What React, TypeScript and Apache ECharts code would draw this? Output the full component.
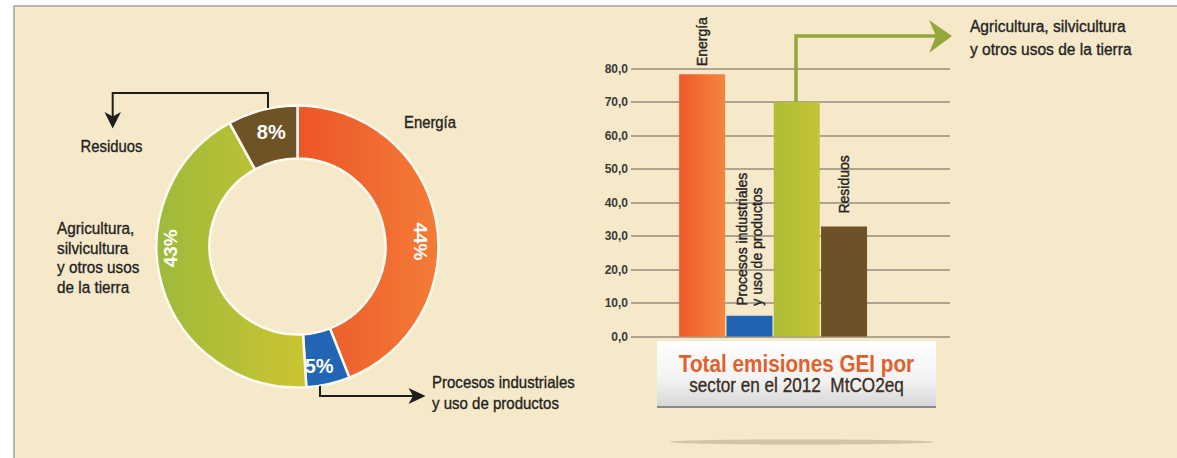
import React, { useEffect, useRef } from 'react';
import * as echarts from 'echarts';

// ---------- data ----------
const PIE_NAMES = [
  'Energía',
  'Procesos industriales\ny uso de productos',
  'Agricultura,\nsilvicultura\ny otros usos\nde la tierra',
  'Residuos',
];
const PIE_PERCENT = [44, 5, 43, 8];

const BAR_CATEGORIES = ['Energía', 'Procesos industriales y uso de productos', 'Agricultura, silvicultura y otros usos de la tierra', 'Residuos'];
const BAR_LABELS = ['Energía', 'Procesos industriales\ny uso de productos', '', 'Residuos'];
const BAR_VALUES = [78.3, 6.2, 70.0, 32.8];
const AGRI_NOTE = 'Agricultura, silvicultura\ny otros usos de la tierra';

const Y_MIN = 0;
const Y_MAX = 80;
const Y_STEP = 10;

const TITLE_LINES = ['Total emisiones GEI por', 'sector en el 2012  MtCO2eq'];

// ---------- styles ----------
const SANS = "'Liberation Sans', Arial, sans-serif";
const TXT = '#222222';
const PAPER = '#f5e9c9';
const CONDENSE = 0.9;

const lin = (a: string, b: string) => ({
  type: 'linear', x: 0, y: 0, x2: 1, y2: 0,
  colorStops: [{ offset: 0, color: a }, { offset: 1, color: b }],
});

const PIE_COLORS = [lin('#ec5529', '#f47c37'), '#2265b5', lin('#9dba3d', '#cbc52f'), '#6f5226'];
const PIE_LABEL_ROT = [-90, 0, 90, 0];
const PIE_LABEL_SIZE = [19, 20, 19, 20];
// label shifts are in the label's own (rotated) frame
const PIE_LABEL_SHIFT = [[17, -8], [-4, 5], [31, -14], [3, -1]];

const BAR_COLORS = [lin('#ee5a2a', '#f5853e'), '#2163b3', lin('#aebd37', '#c4c433'), '#6e5127'];
const BAR_LABEL_DIST = [8, 10, 0, 13];

const txt = (text: string, x: number, y: number, size: number, extra: any = {}, scaleX = CONDENSE) => ({
  type: 'text',
  z: 10,
  x,
  y,
  scaleX,
  style: {
    text, x: 0, y: 0,
    fontSize: size, fontFamily: SANS, fill: TXT,
    stroke: extra.fill || TXT, lineWidth: 0.35,
    align: 'left', textAlign: 'left',
    verticalAlign: 'top', textVerticalAlign: 'top',
    ...extra,
  },
});

function buildOption() {
  const pieData = PIE_PERCENT.map((v, i) => ({
    value: v,
    name: PIE_NAMES[i],
    itemStyle: { color: PIE_COLORS[i] },
    label: { rotate: PIE_LABEL_ROT[i], fontSize: PIE_LABEL_SIZE[i] },
  }));

  const barData = BAR_VALUES.map((v, i) => ({
    value: v,
    itemStyle: { color: BAR_COLORS[i] },
    label: BAR_LABELS[i]
      ? {
          show: true,
          position: 'top',
          rotate: 90,
          align: 'left',
          verticalAlign: 'middle',
          distance: BAR_LABEL_DIST[i],
          formatter: BAR_LABELS[i],
          fontSize: 14,
          lineHeight: 15,
          fontFamily: SANS,
          color: TXT,
          textBorderColor: TXT,
          textBorderWidth: 0.4,
        }
      : { show: false },
  }));

  return {
    animation: false,
    backgroundColor: '#ffffff',
    grid: [
      { left: 631, right: 227, top: 68.5, bottom: 121.5 },
      { left: 678.5, width: 189.2, top: 68.5, bottom: 121.5 },
    ],
    xAxis: [
      { gridIndex: 0, type: 'category', data: [''], show: false },
      { gridIndex: 1, type: 'category', data: BAR_CATEGORIES, show: false },
    ],
    yAxis: [
      {
        gridIndex: 0,
        type: 'value',
        min: Y_MIN,
        max: Y_MAX,
        interval: Y_STEP,
        axisLine: { show: false },
        axisTick: { show: false },
        axisLabel: {
          margin: 3,
          fontSize: 12,
          fontWeight: 'bold',
          fontFamily: SANS,
          color: '#3a3a3a',
          formatter: (v: number) => v.toFixed(1).replace('.', ','),
        },
        splitLine: { show: true, lineStyle: { color: '#968c7c', width: 1.5 } },
      },
      { gridIndex: 1, type: 'value', min: Y_MIN, max: Y_MAX, interval: Y_STEP, show: false, splitLine: { show: false } },
    ],
    series: [
      {
        type: 'pie',
        silent: true,
        center: [297.5, 246.5],
        radius: [88, 141],
        startAngle: 90,
        clockwise: true,
        avoidLabelOverlap: false,
        itemStyle: { borderColor: '#fdfaf0', borderWidth: 2.5 },
        label: {
          show: true,
          position: 'inside',
          color: '#ffffff',
          fontWeight: 'bold',
          fontFamily: SANS,
          formatter: (p: any) => p.value + '%',
        },
        labelLine: { show: false },
        labelLayout: (p: any) => ({ dx: PIE_LABEL_SHIFT[p.dataIndex][0], dy: PIE_LABEL_SHIFT[p.dataIndex][1] }),
        data: pieData,
      },
      {
        type: 'bar',
        silent: true,
        xAxisIndex: 1,
        yAxisIndex: 1,
        barWidth: 46,
        data: barData,
      },
    ],
    graphic: [
      // paper frame
      { type: 'rect', z: -100, shape: { x: 14, y: 6, width: 1200, height: 500 }, style: { fill: PAPER, stroke: '#a3a3a3', lineWidth: 1.5 } },
      // shadow under banner
      { type: 'ellipse', z: 1, shape: { cx: 802, cy: 442, rx: 132, ry: 2.5 }, style: { fill: 'rgba(140,130,110,0.35)' } },
      // banner
      {
        type: 'rect', z: 5,
        shape: { x: 657, y: 341, width: 279, height: 66 },
        style: { fill: { type: 'linear', x: 0, y: 0, x2: 0, y2: 1, colorStops: [{ offset: 0, color: '#ffffff' }, { offset: 0.6, color: '#f2f2f2' }, { offset: 1, color: '#d6d6d6' }] } },
      },
      { type: 'line', z: 6, shape: { x1: 657, y1: 407, x2: 936, y2: 407 }, style: { stroke: '#8a8a8a', lineWidth: 2 } },
      txt(TITLE_LINES[0], 796.5, 364, 23, { fontWeight: 'bold', fill: '#e0612b', stroke: null, lineWidth: 0, align: 'center', textAlign: 'center', verticalAlign: 'middle', textVerticalAlign: 'middle' }, 0.9),
      txt(TITLE_LINES[1], 796.5, 385, 19.5, { fill: '#3b2e22', stroke: '#3b2e22', align: 'center', textAlign: 'center', verticalAlign: 'middle', textVerticalAlign: 'middle' }, 0.88),

      // donut annotations
      txt(PIE_NAMES[0], 404, 122, 16.5, { verticalAlign: 'middle', textVerticalAlign: 'middle' }),
      txt(PIE_NAMES[3], 80.5, 146, 16.5, { verticalAlign: 'middle', textVerticalAlign: 'middle' }),
      txt(PIE_NAMES[2], 57, 218, 17, { lineHeight: 19.5 }),
      txt(PIE_NAMES[1], 432, 371.5, 16.7, { lineHeight: 21 }),

      // Residuos arrow
      { type: 'polyline', z: 8, shape: { points: [[268, 108], [268, 93], [112.7, 93], [112.7, 117]] }, style: { stroke: '#1e1e1e', lineWidth: 2, fill: null } },
      { type: 'polygon', z: 8, shape: { points: [[104.5, 112], [112.7, 116.5], [121, 112], [112.7, 128.5]] }, style: { fill: '#1e1e1e' } },
      // Procesos arrow
      { type: 'polyline', z: 8, shape: { points: [[320, 386], [320, 396], [413, 396]] }, style: { stroke: '#1e1e1e', lineWidth: 2, fill: null } },
      { type: 'polygon', z: 8, shape: { points: [[408.5, 388], [413, 396], [408.5, 404], [425.5, 396]] }, style: { fill: '#1e1e1e' } },
      // Agricultura arrow (bar chart)
      { type: 'polyline', z: 8, shape: { points: [[796, 102], [796, 36], [938, 36]] }, style: { stroke: '#93a73a', lineWidth: 3.5, fill: null } },
      { type: 'polygon', z: 8, shape: { points: [[929, 20], [952, 36], [929, 53], [936, 36]] }, style: { fill: '#93a73a' } },
      txt(AGRI_NOTE, 970, 14.5, 17.3, { lineHeight: 23 }),
    ],
  };
}

export default function App() {
  const ref = useRef<HTMLDivElement>(null);
  useEffect(() => {
    if (!ref.current) return;
    const chart = echarts.init(ref.current, undefined, { renderer: 'svg' });
    chart.setOption(buildOption() as any);
    return () => chart.dispose();
  }, []);
  return <div ref={ref} style={{ position: 'absolute', left: 0, top: 0, width: 1177, height: 458 }} />;
}
